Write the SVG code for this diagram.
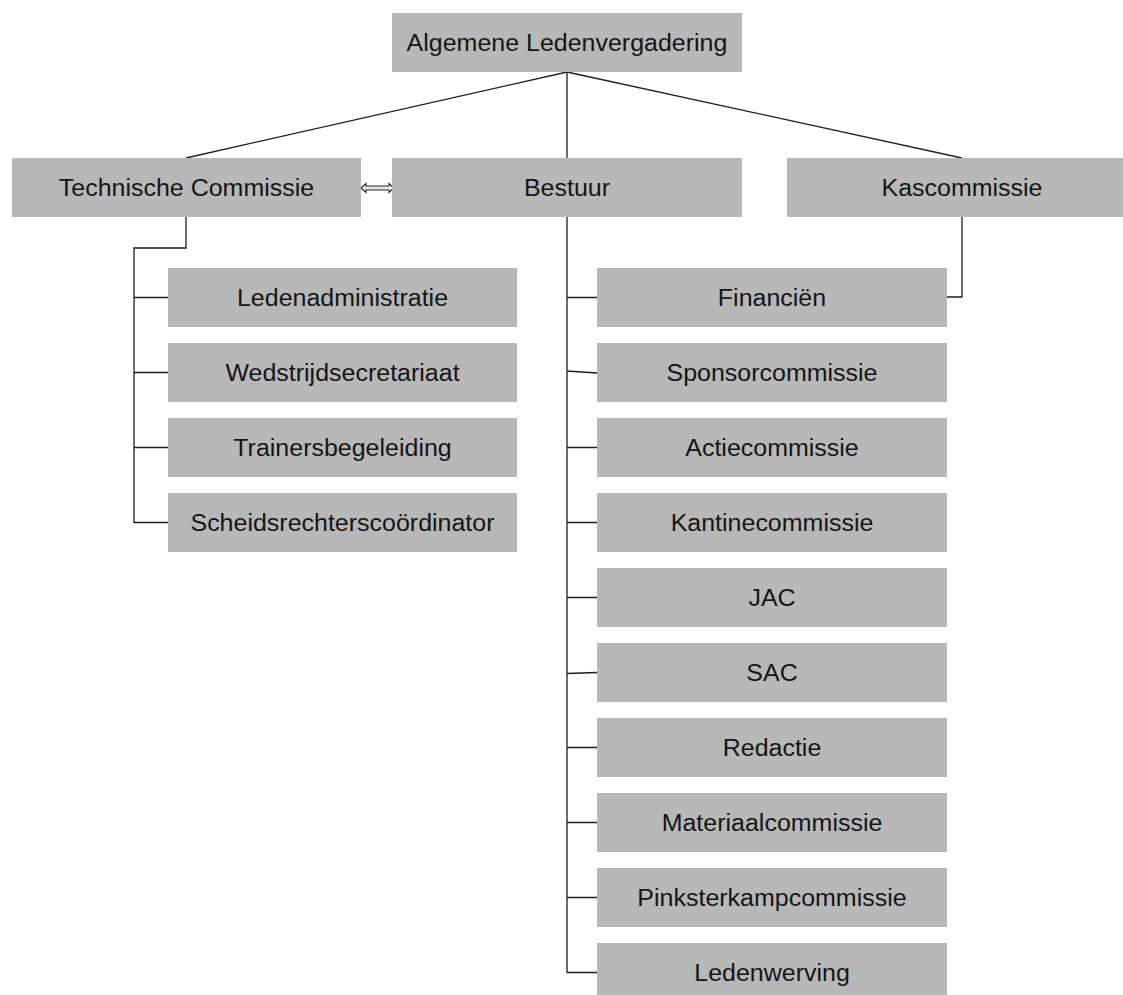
<svg xmlns="http://www.w3.org/2000/svg" width="1123" height="995" viewBox="0 0 1123 995">
<style>
.box{fill:#b8b8b8}
.t{font-family:"Liberation Sans",Arial,sans-serif;font-size:24.5px;fill:#151515;text-anchor:middle}
.ln{fill:none;stroke:#1e1e1e;stroke-width:1.3}
</style>
<rect width="1123" height="995" fill="#ffffff"/>
<g id="connectors">
<path class="ln" d="M567,72 L186,158 M567,72 L567,158 M567,72 L962,158"/>
<path class="ln" d="M186,217 V248 H134 V523 M134,297.5 H168 M134,372.5 H168 M134,447.5 H168 M134,522.5 H168"/>
<path class="ln" d="M567,217 V973 M567,297.5 H597 M567,371 L597,373 M567,447.5 H597 M567,522.5 H597 M567,597.5 H597 M567,673.5 L597,672.5 M567,747.5 H597 M567,822.5 H597 M567,897.5 H597 M567,972.5 H597"/>
<path class="ln" d="M962,217 V297 H947"/>
<polygon points="361,188 366,183.5 366,186 389,186 389,183.5 394,188 389,192.5 389,190 366,190 366,192.5" fill="#dfe7f0" stroke="#2a2a2a" stroke-width="1.1"/>
</g>
<g id="n-alv"><rect class="box" x="392" y="13" width="350" height="59"/><text class="t" transform="translate(567,51) scale(1.02,1)">Algemene Ledenvergadering</text></g>
<g id="n-tc"><rect class="box" x="12" y="158" width="349" height="59"/><text class="t" transform="translate(186.5,196) scale(1.02,1)">Technische Commissie</text></g>
<g id="n-bestuur"><rect class="box" x="392" y="158" width="350" height="59"/><text class="t" transform="translate(567,196) scale(1.02,1)">Bestuur</text></g>
<g id="n-kas"><rect class="box" x="787" y="158" width="350" height="59"/><text class="t" transform="translate(962,196) scale(1.02,1)">Kascommissie</text></g>
<g id="n-leden"><rect class="box" x="168" y="268" width="349" height="59"/><text class="t" transform="translate(342.5,306) scale(1.02,1)">Ledenadministratie</text></g>
<g id="n-wed"><rect class="box" x="168" y="343" width="349" height="59"/><text class="t" transform="translate(342.5,381) scale(1.02,1)">Wedstrijdsecretariaat</text></g>
<g id="n-train"><rect class="box" x="168" y="418" width="349" height="59"/><text class="t" transform="translate(342.5,456) scale(1.02,1)">Trainersbegeleiding</text></g>
<g id="n-scheids"><rect class="box" x="168" y="493" width="349" height="59"/><text class="t" transform="translate(342.5,531) scale(1.02,1)">Scheidsrechterscoördinator</text></g>
<g id="n-fin"><rect class="box" x="597" y="268" width="350" height="59"/><text class="t" transform="translate(772,306) scale(1.02,1)">Financiën</text></g>
<g id="n-sponsor"><rect class="box" x="597" y="343" width="350" height="59"/><text class="t" transform="translate(772,381) scale(1.02,1)">Sponsorcommissie</text></g>
<g id="n-actie"><rect class="box" x="597" y="418" width="350" height="59"/><text class="t" transform="translate(772,456) scale(1.02,1)">Actiecommissie</text></g>
<g id="n-kantine"><rect class="box" x="597" y="493" width="350" height="59"/><text class="t" transform="translate(772,531) scale(1.02,1)">Kantinecommissie</text></g>
<g id="n-jac"><rect class="box" x="597" y="568" width="350" height="59"/><text class="t" transform="translate(772,606) scale(1.02,1)">JAC</text></g>
<g id="n-sac"><rect class="box" x="597" y="643" width="350" height="59"/><text class="t" transform="translate(772,681) scale(1.02,1)">SAC</text></g>
<g id="n-redactie"><rect class="box" x="597" y="718" width="350" height="59"/><text class="t" transform="translate(772,756) scale(1.02,1)">Redactie</text></g>
<g id="n-materiaal"><rect class="box" x="597" y="793" width="350" height="59"/><text class="t" transform="translate(772,831) scale(1.02,1)">Materiaalcommissie</text></g>
<g id="n-pinkster"><rect class="box" x="597" y="868" width="350" height="59"/><text class="t" transform="translate(772,906) scale(1.02,1)">Pinksterkampcommissie</text></g>
<g id="n-werving"><rect class="box" x="597" y="943" width="350" height="59"/><text class="t" transform="translate(772,981) scale(1.02,1)">Ledenwerving</text></g>
</svg>
